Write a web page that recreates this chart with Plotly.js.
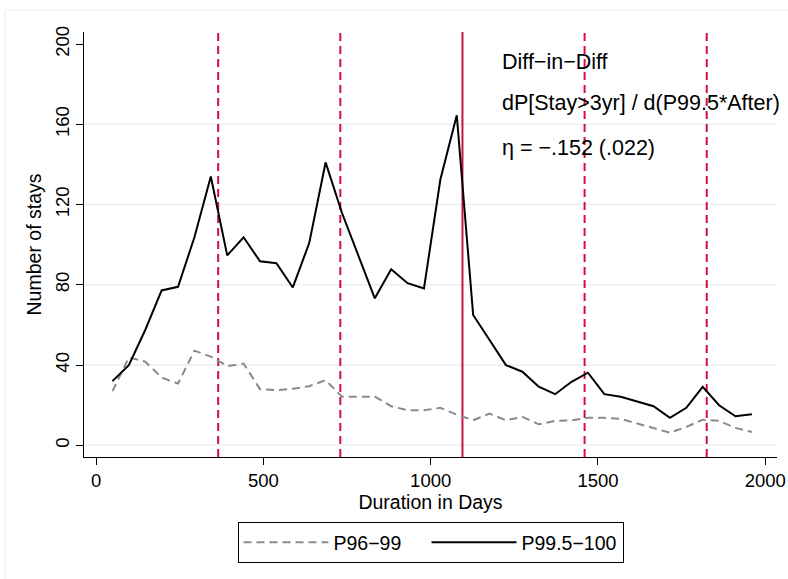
<!DOCTYPE html>
<html>
<head>
<meta charset="utf-8">
<script src="https://cdn.plot.ly/plotly-3.0.1.min.js"></script>
<style>
  html, body { margin: 0; padding: 0; background: #fff; }
  #chart { width: 788px; height: 579px; }
</style>
</head>
<body>
<div id="chart"></div>
<script>
// ---- data ----
var days = [49, 98, 147, 196, 245, 294, 343, 392, 441, 490,
            539, 588, 637, 686, 735, 784, 833, 882, 931, 980,
            1029, 1078, 1127, 1176, 1225, 1274, 1323, 1372, 1421, 1470,
            1519, 1568, 1617, 1666, 1715, 1764, 1813, 1862, 1911, 1960];
var p96_99 = [27, 43.8, 41.7, 33.8, 30.8, 47.2, 44.2, 39.5, 40.8, 28,
              27.5, 28.2, 29.5, 32.5, 24.2, 24.3, 24.3, 19.5, 17.5, 17.5,
              18.7, 15.3, 12.5, 15.8, 12.5, 14.2, 10.5, 12.2, 12.5, 13.7,
              13.7, 13.2, 10.8, 8.7, 6.3, 9.2, 12.8, 12.2, 8.7, 6.7];
var p995_100 = [32, 40, 57.5, 77.2, 79, 103.7, 134, 94.7, 103.7, 91.7,
                90.8, 78.7, 100.8, 141, 115.8, 94.5, 73.3, 87.8, 80.8, 78.2,
                132.5, 164.5, 65, 52.5, 40, 36.7, 29.2, 25.5, 31.7, 36.2,
                25.5, 24.2, 21.7, 19.5, 13.7, 18.7, 29.2, 20, 14.5, 15.5];
var seriesNames = ["P96\u221299", "P99.5\u2212100"];
var dashedYears = [365, 730, 1460, 1825];
var solidYears = [1095];
var xTicks = [0, 500, 1000, 1500, 2000];
var yTicks = [0, 40, 80, 120, 160, 200];
var yGrid = [0, 40, 80, 120, 160];
var noteLines = ["Diff\u2212in\u2212Diff", "dP[Stay>3yr] / d(P99.5*After)", "\u03b7 = \u2212.152 (.022)"];

// ---- styling ----
var FONT = "'Liberation Sans', Arial, Helvetica, sans-serif";
var RED = "#d2103e";

var traces = [
  { x: days, y: p96_99, name: seriesNames[0], type: "scatter", mode: "lines",
    legendwidth: 88,
    line: { color: "#8a8a8a", width: 2, dash: "8px,5px" } },
  { x: days, y: p995_100, name: seriesNames[1], type: "scatter", mode: "lines",
    legendwidth: 96,
    line: { color: "#000000", width: 2 } }
];

var shapes = [];
shapes.push({ type: "rect", xref: "paper", yref: "paper",
  x0: -0.114, x1: 1.5, y0: -1.0, y1: 1.0518,
  line: { color: "#e8eef0", width: 1 }, layer: "below" });
yGrid.forEach(function (v) {
  shapes.push({ type: "line", xref: "paper", yref: "y", x0: 0, x1: 1, y0: v, y1: v,
    line: { color: "#e9eff2", width: 1.5 }, layer: "below" });
});
dashedYears.forEach(function (v) {
  shapes.push({ type: "line", xref: "x", yref: "paper", x0: v, x1: v, y0: 0, y1: 1,
    line: { color: RED, width: 2, dash: "8px,5px" }, layer: "below" });
});
solidYears.forEach(function (v) {
  shapes.push({ type: "line", xref: "x", yref: "paper", x0: v, x1: v, y0: 0, y1: 1,
    line: { color: RED, width: 2 }, layer: "below" });
});

var noteY = [0.930, 0.833, 0.727];
var annotations = noteLines.map(function (t, i) {
  return { text: t, xref: "paper", yref: "paper", x: 0.600, y: noteY[i],
    xanchor: "left", yanchor: "middle", showarrow: false,
    font: { family: FONT, size: 21.5, color: "#000" } };
});

var layout = {
  width: 788, height: 579,
  margin: { l: 84, r: 11, t: 32, b: 122, pad: 0 },
  paper_bgcolor: "#ffffff", plot_bgcolor: "#ffffff",
  font: { family: FONT, size: 18, color: "#000" },
  showlegend: true,
  legend: {
    orientation: "h", x: 0.5, xanchor: "center", y: -0.153, yanchor: "top",
    bordercolor: "#000", borderwidth: 1, bgcolor: "#fff",
    font: { family: FONT, size: 19.5, color: "#000" },
    itemwidth: 85, tracegroupgap: 0
  },
  xaxis: {
    range: [-36, 2035], tickvals: xTicks, ticktext: xTicks.map(String),
    showgrid: false, zeroline: false,
    showline: true, linecolor: "#000", linewidth: 1,
    ticks: "outside", ticklen: 7, tickcolor: "#000", tickwidth: 1,
    tickfont: { family: FONT, size: 18.5, color: "#000" },
    title: { text: "Duration in Days", font: { family: FONT, size: 19.5, color: "#000" }, standoff: 3 }
  },
  yaxis: {
    range: [-5.8, 206], tickvals: yTicks, ticktext: yTicks.map(String),
    tickangle: -90,
    showgrid: false, zeroline: false,
    showline: true, linecolor: "#000", linewidth: 1,
    ticks: "outside", ticklen: 7, tickcolor: "#000", tickwidth: 1,
    tickfont: { family: FONT, size: 18.5, color: "#000" },
    title: { text: "Number of stays", font: { family: FONT, size: 19.5, color: "#000" }, standoff: 4 }
  },
  shapes: shapes,
  annotations: annotations
};

Plotly.newPlot("chart", traces, layout, { staticPlot: true, displayModeBar: false });
</script>
</body>
</html>
